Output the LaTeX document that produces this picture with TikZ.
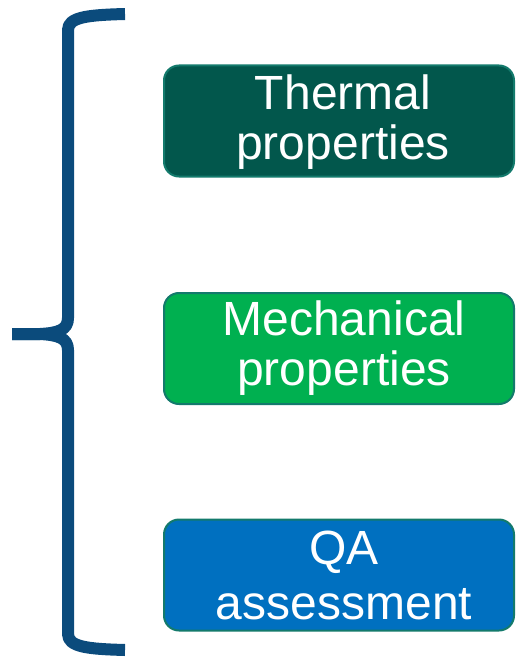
\documentclass[tikz,border=0pt]{standalone}
\usepackage{fontspec}
\setmainfont{Liberation Sans}
\definecolor{bracecol}{HTML}{0B4B7C}
\definecolor{edgecol}{HTML}{137A6C}
\definecolor{thermalcol}{HTML}{02574C}
\definecolor{mechcol}{HTML}{00B050}
\definecolor{qacol}{HTML}{0070C0}
\tikzset{
  pbox/.style={draw=edgecol, line width=2pt, rounded corners=15pt, minimum width=350pt,
    minimum height=111pt, inner sep=0pt},
  ptext/.style={inner sep=0pt, text=white, align=center,
    font=\fontsize{48pt}{50pt}\selectfont},
  bracestroke/.style={draw=bracecol, line width=12pt, line cap=butt, line join=round}
}
\begin{document}
\begin{tikzpicture}[x=1pt,y=-1pt]
\useasboundingbox (0,0) rectangle (516,658);
\node[pbox, fill=thermalcol] (thermal) at (339,121) {};
\node[pbox, fill=mechcol] (mech) at (339,348.5) {};
\node[pbox, fill=qacol] (qa) at (339,575) {};
\node[ptext] (thermalt) at ([xshift=4pt,yshift=-1pt]thermal.center) {Thermal\\properties};
\node[ptext] (mecht) at ([xshift=5pt]mech.center) {Mechanical\\properties};
\node[ptext, font=\fontsize{48pt}{55pt}\selectfont] (qat) at ([xshift=5pt]qa.center) {QA\\assessment};
\coordinate (top) at (125,14);
\coordinate (tip) at (12,334);
\coordinate (bot) at (125,650);
\draw[bracestroke] (top) .. controls (88,15) and (68,17) .. (68,30) -- (68,318)
  .. controls (68,330) and (58,333) .. (40,334) -- (tip);
\draw[bracestroke] (bot) .. controls (88,649) and (68,647) .. (68,634) -- (68,350)
  .. controls (68,338) and (58,335) .. (40,334) -- (tip);
\end{tikzpicture}
\end{document}
